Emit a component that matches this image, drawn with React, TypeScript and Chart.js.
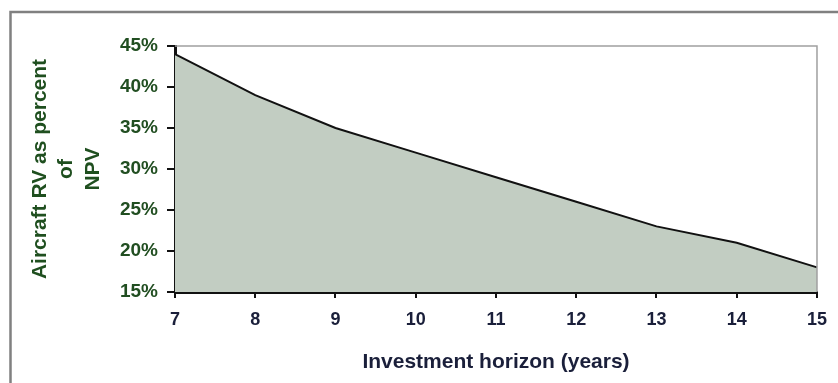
import React, { useEffect, useRef } from "react";
import { Chart, registerables } from "chart.js";

Chart.register(...registerables);

const years = ["7", "8", "9", "10", "11", "12", "13", "14", "15"];
const rvPercent = [44, 39, 35, 32, 29, 26, 23, 21, 18];
const yTitleLines = ["Aircraft RV as percent", "of", "NPV"];
const xTitle = "Investment horizon (years)";

const framePlugin = {
  id: "frame",
  beforeDraw(chart: any) {
    const { ctx, width, height } = chart;
    ctx.save();
    ctx.fillStyle = "#ffffff";
    ctx.fillRect(0, 0, width, height);
    ctx.strokeStyle = "#808080";
    ctx.lineWidth = 2.5;
    ctx.beginPath();
    ctx.moveTo(10.5, height);
    ctx.lineTo(10.5, 12);
    ctx.lineTo(width, 12);
    ctx.stroke();
    ctx.restore();
  },
  afterDatasetsDraw(chart: any) {
    const { ctx, chartArea } = chart;
    ctx.save();
    ctx.strokeStyle = "#a0a0a0";
    ctx.lineWidth = 1.5;
    ctx.beginPath();
    ctx.moveTo(chartArea.left, chartArea.top);
    ctx.lineTo(chartArea.right, chartArea.top);
    ctx.lineTo(chartArea.right, chartArea.bottom);
    ctx.stroke();
    ctx.restore();
  },
};

export default function App() {
  const ref = useRef<HTMLCanvasElement>(null);
  useEffect(() => {
    if (!ref.current) return;
    const chart = new Chart(ref.current, {
      type: "line",
      data: {
        labels: years,
        datasets: [
          {
            data: rvPercent,
            borderColor: "#111111",
            borderWidth: 2,
            backgroundColor: "#c2cdc2",
            fill: "start",
            pointRadius: 0,
            tension: 0,
          },
        ],
      },
      plugins: [framePlugin],
      options: {
        animation: false,
        responsive: false,
        devicePixelRatio: 1,
        layout: { padding: { left: 0, right: 20, top: 46, bottom: 0 } },
        plugins: { legend: { display: false }, tooltip: { enabled: false } },
        scales: {
          x: {
            offset: false,
            afterFit: (s: any) => {
              s.height = 91;
            },
            grid: {
              drawOnChartArea: false,
              drawTicks: true,
              tickLength: 6,
              color: "#111111",
              lineWidth: 2,
            },
            border: { color: "#111111", width: 3 },
            ticks: {
              color: "#1a1f3a",
              padding: 11,
              maxRotation: 0,
              font: { family: "'Liberation Sans', Arial, sans-serif", size: 18, weight: "bold" },
            },
            title: {
              display: true,
              text: xTitle,
              color: "#1a1f3a",
              padding: { top: 0, bottom: 8 },
              font: { family: "'Liberation Sans', Arial, sans-serif", size: 21, weight: "bold" },
            },
          },
          y: {
            min: 15,
            max: 45,
            afterFit: (s: any) => {
              s.width = 175;
            },
            grid: {
              drawOnChartArea: false,
              drawTicks: true,
              tickLength: 8,
              color: "#111111",
              lineWidth: 2,
            },
            border: { color: "#111111", width: 3 },
            ticks: {
              stepSize: 5,
              color: "#214e21",
              padding: 9,
              callback: (v: any) => `${v}%`,
              font: { family: "'Liberation Sans', Arial, sans-serif", size: 19, weight: "bold" },
            },
            title: {
              display: true,
              text: yTitleLines,
              color: "#1f4f1f",
              padding: { top: 27, bottom: 0 },
              font: { family: "'Liberation Sans', Arial, sans-serif", size: 21, weight: "bold", lineHeight: 1.26 },
            },
          },
        },
      },
    });
    return () => chart.destroy();
  }, []);
  return (
    <div style={{ position: "fixed", left: 0, top: 0, width: 838, height: 383 }}>
      <canvas ref={ref} width={838} height={383} style={{ display: "block" }} />
    </div>
  );
}
